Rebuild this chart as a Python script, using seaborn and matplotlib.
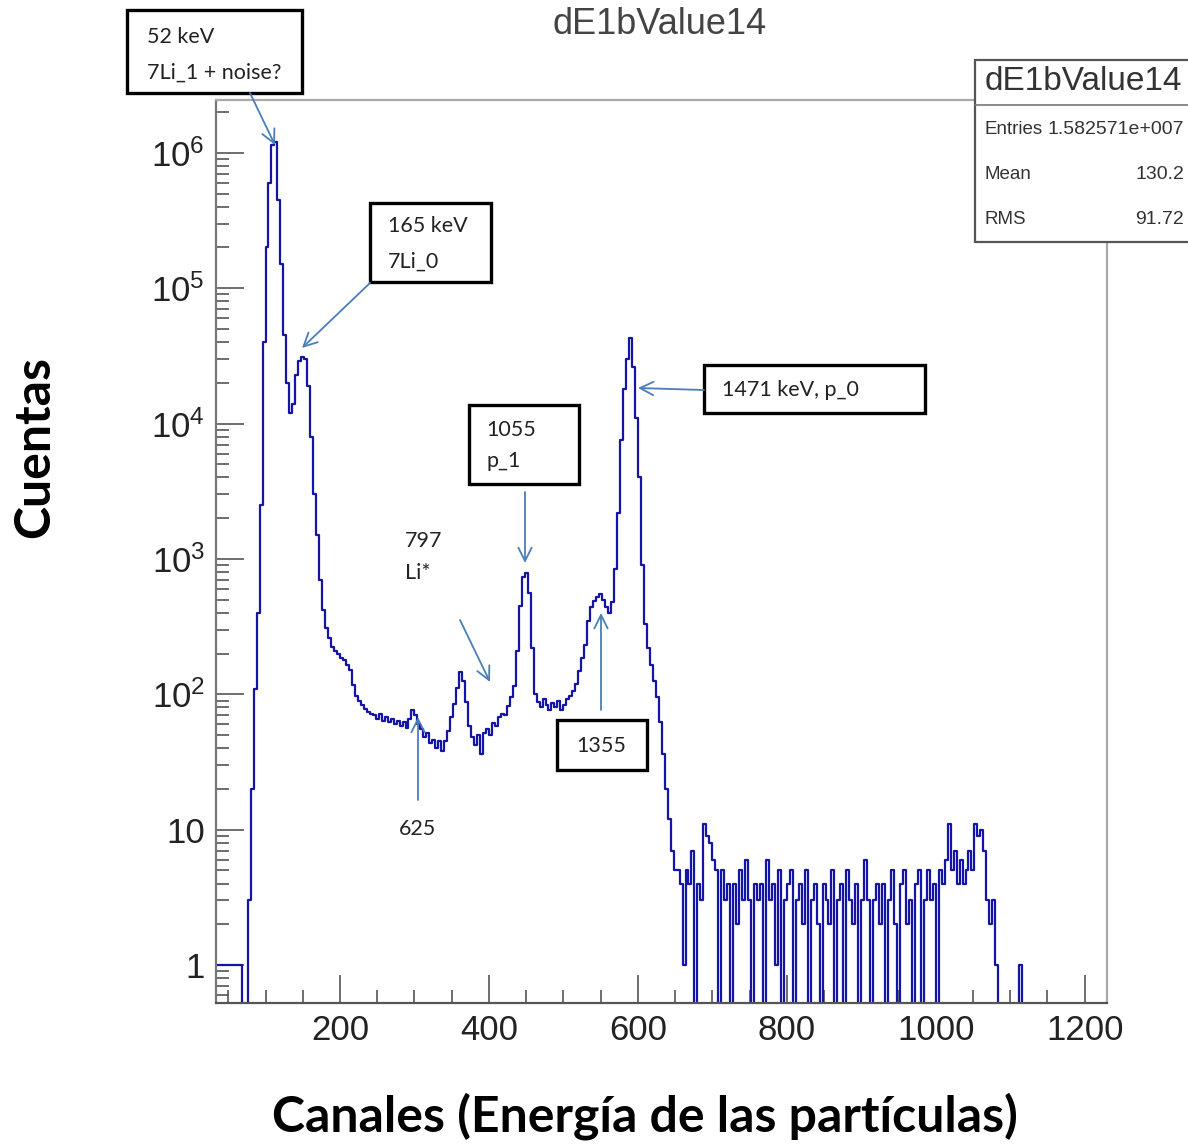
import numpy as np
import pandas as pd
import matplotlib
matplotlib.use('Agg')
import matplotlib.pyplot as plt
import seaborn as sns
from matplotlib.patches import Rectangle, FancyArrowPatch
from matplotlib.ticker import LogLocator, MultipleLocator, NullFormatter

# histogram: 4-channel bins starting at channel 32
channel_start = 32
channel_width = 4

# channels 32-212 (7Li_1 and 7Li_0 peaks)
counts_peaks = [1, 1, 1, 1, 1, 1, 1, 1, 1, 0,
                0, 3, 20, 110, 400, 2500, 40000, 200000, 600000, 1150000,
                1200000, 450000, 150000, 45000, 20000, 12000, 14000, 23000, 29000, 31000,
                30000, 19000, 8000, 3000, 1500, 700, 420, 310, 260, 225,
                210, 200, 185, 178, 165]

# channels 212-648 (continuum, p_1 and p_0)
counts_continuum = [150, 118, 97, 90, 84, 78, 74, 72, 70, 66,
                    72, 64, 68, 62, 66, 60, 64, 58, 62, 56,
                    66, 76, 70, 60, 55, 48, 52, 44, 46, 40,
                    45, 38, 45, 54, 68, 85, 112, 145, 125, 88,
                    58, 48, 42, 50, 36, 52, 55, 50, 61, 58,
                    68, 72, 70, 82, 95, 115, 210, 450, 730, 790,
                    560, 220, 100, 88, 80, 92, 84, 76, 86, 80,
                    90, 76, 84, 92, 98, 105, 120, 148, 185, 230,
                    350, 440, 490, 520, 550, 500, 440, 400, 480, 850,
                    2200, 7500, 18000, 30000, 43000, 26000, 11000, 4000, 900, 330,
                    220, 165, 125, 95, 62, 36, 20, 12, 7]

# channels 648-1124 (sparse tail)
counts_tail = [5, 5, 4, 1, 5, 4, 7, 0, 4, 3,
               11, 9, 8, 6, 5, 0, 5, 3, 4, 0,
               4, 2, 5, 3, 6, 3, 0, 4, 3, 4,
               0, 6, 3, 4, 1, 5, 0, 3, 4, 5,
               0, 3, 4, 2, 5, 0, 3, 4, 2, 0,
               4, 3, 2, 5, 0, 3, 4, 0, 5, 3,
               2, 4, 0, 3, 6, 3, 0, 3, 4, 2,
               4, 0, 3, 5, 2, 0, 4, 5, 2, 3,
               0, 4, 5, 0, 3, 5, 3, 4, 0, 5,
               4, 6, 11, 5, 7, 4, 6, 4, 5, 7,
               5, 11, 9, 10, 7, 3, 2, 3, 1,
               0, 0, 0, 0, 0, 0, 0, 1, 0, 0]

y_tick_values = [1, 10, 1e2, 1e3, 1e4, 1e5, 1e6]
y_tick_labels = ['1', '10', r'$\mathdefault{10^{2}}$', r'$\mathdefault{10^{3}}$',
                 r'$\mathdefault{10^{4}}$', r'$\mathdefault{10^{5}}$', r'$\mathdefault{10^{6}}$']
x_tick_values = [200, 400, 600, 800, 1000, 1200]

hist_title = 'dE1bValue14'
stats_names = ['Entries', 'Mean', 'RMS']
stats_values = ['1.582571e+007', '130.2', '91.72']

counts = np.array(counts_peaks + counts_continuum + counts_tail, dtype=float)
centers = channel_start + channel_width * (np.arange(len(counts)) + 0.5)
# empty bins go below the axis, like ROOT draws them on a log scale
df = pd.DataFrame({'canal': centers, 'cuentas': np.where(counts > 0, counts, 0.1)})

sns.set_theme(style='white')
plt.rcParams['font.family'] = ['Liberation Sans', 'DejaVu Sans']

W, H = 1188, 1144
fig = plt.figure(figsize=(W / 100, H / 100), dpi=100)
ax = fig.add_axes([216 / W, 1 - 1003 / H, (1107 - 216) / W, (1003 - 100) / H])


def fx(px):
    return px / W


def fy(py):
    return 1 - py / H


sns.lineplot(data=df, x='canal', y='cuentas', drawstyle='steps-mid', estimator=None,
             color='#1414a6', lw=1.6, ax=ax)
ax.set_yscale('log')
ax.set_ylim(10 ** -0.28, 10 ** 6.39)
ax.set_xlim(33.5, 1230)
ax.set_xlabel('')
ax.set_ylabel('')

ax.set_yticks(y_tick_values, y_tick_labels)
ax.yaxis.set_minor_locator(LogLocator(base=10, subs=np.arange(2, 10), numticks=50))
ax.yaxis.set_minor_formatter(NullFormatter())
ax.set_xticks(x_tick_values)
ax.xaxis.set_minor_locator(MultipleLocator(50))
ax.tick_params(which='both', direction='in', left=True, bottom=True, top=False, right=False,
               color='#555555', width=1.2)
ax.tick_params(which='major', length=20, labelsize=25, labelcolor='#222222', pad=8)
ax.tick_params(which='minor', length=9.5)

ax.spines['left'].set_color('#777777')
ax.spines['bottom'].set_color('#555555')
ax.spines['top'].set_color('#aaaaaa')
ax.spines['right'].set_color('#aaaaaa')
for s in ax.spines.values():
    s.set_linewidth(1.6)

# title
fig.text(fx(660), fy(25), hist_title, ha='center', va='center', fontsize=26, color='#444444')

# stats box (runs off the right edge)
fig.add_artist(Rectangle((fx(975), fy(242)), (1200 - 975) / W, (242 - 60) / H,
                         transform=fig.transFigure, facecolor='white', edgecolor='#555555', lw=1.6))
fig.add_artist(plt.Line2D([fx(975), fx(1188)], [fy(105), fy(105)], transform=fig.transFigure,
                          color='#777777', lw=1.2))
fig.text(fx(985), fy(82), hist_title, ha='left', va='center', fontsize=24, color='#333333')
for i, (name, val) in enumerate(zip(stats_names, stats_values)):
    yy = 130 + 45 * i
    fig.text(fx(985), fy(yy), name, ha='left', va='center', fontsize=13.5, color='#333333')
    fig.text(fx(1184), fy(yy), val, ha='right', va='center', fontsize=14, color='#333333')

# axis labels
fig.text(fx(645), fy(1116), 'Canales (Energía de las partículas)', ha='center', va='center',
         fontsize=36, fontweight='bold', family=['Lato', 'DejaVu Sans'], color='black')
fig.text(fx(35), fy(447), 'Cuentas', ha='center', va='center', rotation=90,
         fontsize=36, fontweight='bold', family=['Lato', 'DejaVu Sans'], color='black')

# annotations
note_font = dict(fontsize=15.5, family=['Lato', 'DejaVu Sans'], color='#222222', va='center')
arrow_color = '#4a7ebb'


def box(x0, y0, x1, y1):
    fig.add_artist(Rectangle((fx(x0), fy(y1)), (x1 - x0) / W, (y1 - y0) / H,
                             transform=fig.transFigure, fill=False, edgecolor='black', lw=2.4))


def arrow(xa, ya, xb, yb):
    fig.add_artist(FancyArrowPatch((fx(xa), fy(ya)), (fx(xb), fy(yb)), transform=fig.transFigure,
                                   arrowstyle='->', mutation_scale=24, color=arrow_color, lw=1.3,
                                   shrinkA=0, shrinkB=0))


box(127, 10, 302, 93)
fig.text(fx(147), fy(37), '52 keV', **note_font)
fig.text(fx(147), fy(73), '7Li_1 + noise?', **note_font)
arrow(250, 93, 275, 145)

box(370, 203, 491, 282)
fig.text(fx(388), fy(226), '165 keV', **note_font)
fig.text(fx(388), fy(262), '7Li_0', **note_font)
arrow(370, 283, 302, 348)

box(469, 405, 579, 484)
fig.text(fx(486), fy(430), '1055', **note_font)
fig.text(fx(486), fy(461), 'p_1', **note_font)
arrow(525, 492, 525, 563)

box(704, 365, 925, 413)
fig.text(fx(722), fy(390), '1471 keV, p_0', **note_font)
arrow(704, 390, 638, 388)

fig.text(fx(405), fy(541), '797', **note_font)
fig.text(fx(405), fy(573), 'Li*', **note_font)
arrow(460, 620, 490, 682)

box(557, 720, 647, 770)
fig.text(fx(601), fy(746), '1355', ha='center', **note_font)
arrow(601, 710, 601, 613)

fig.text(fx(418), fy(829), '625', ha='center', **note_font)
arrow(418, 800, 418, 717)

fig.savefig('out.png', dpi=100)
